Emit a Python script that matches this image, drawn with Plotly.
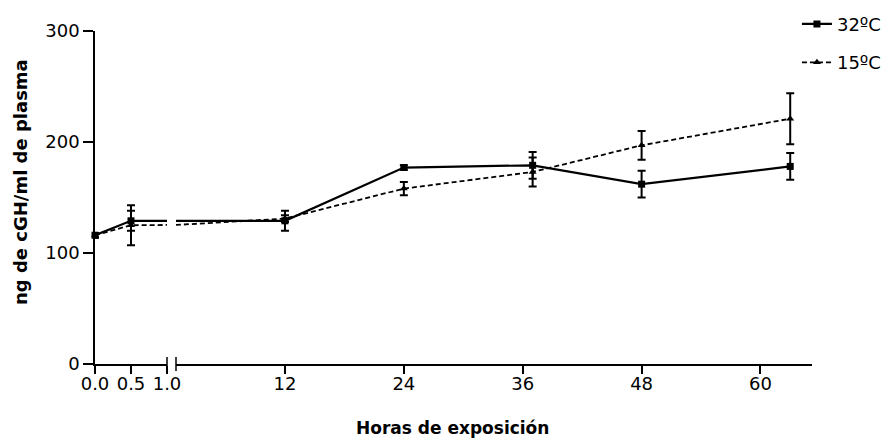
import plotly.graph_objects as go

# Sampling times (hours of exposure)
hours = [0, 0.5, 12, 24, 37, 48, 63]

# Plasma cGH (ng/ml) at 32 ºC
g32 = [116, 129, 129, 177, 179, 162, 178]
e32 = [2, 9, 9, 2, 12, 12, 12]

# Plasma cGH (ng/ml) at 15 ºC
g15 = [116, 125, 131, 158, 173, 197, 221]
e15 = [2, 18, 3, 6, 13, 13, 23]

# Tick labels for the broken time axis
left_ticks = [0.0, 0.5, 1.0]
left_text = ["0.0", "0.5", "1.0"]
right_ticks = [12, 24, 36, 48, 60]
y_ticks = [0, 100, 200, 300]

FONT = "DejaVu Sans, Arial, sans-serif"
INK = "black"

series = [
    dict(name="32ºC", y=g32, err=e32, dash="solid", width=2.2,
         symbol="square", size=7),
    dict(name="15ºC", y=g15, err=e15, dash="5px,3px", width=1.8,
         symbol="triangle-up", size=7),
]

fig = go.Figure()

# Each series is drawn on both halves of the broken axis; the plot area
# clips whatever falls outside a half's range.
for i, s in enumerate(series):
    for xa, show, clip in (("x", False, False), ("x2", True, True)):
        fig.add_trace(go.Scatter(
            x=hours, y=s["y"], xaxis=xa, yaxis="y",
            mode="lines+markers", name=s["name"],
            showlegend=show, legendgroup=s["name"], cliponaxis=clip,
            line=dict(color=INK, width=s["width"], dash=s["dash"]),
            marker=dict(symbol=s["symbol"], size=s["size"], color=INK),
            error_y=dict(type="data", array=s["err"], visible=True,
                         color=INK, thickness=2, width=4),
        ))

axis_common = dict(
    showline=True, linecolor=INK, linewidth=1.5,
    ticks="outside", tickcolor=INK, tickwidth=1.5,
    showgrid=False, zeroline=False,
    tickfont=dict(family=FONT, size=18, color=INK),
)

left_end = (167 - 95) / 717
right_start = (176 - 95) / 717

fig.update_layout(
    width=888, height=440,
    margin=dict(l=95, r=76, t=31, b=76, autoexpand=False),
    paper_bgcolor="white", plot_bgcolor="white",
    xaxis=dict(domain=[0, left_end], range=[0, 1.0], anchor="y",
               tickvals=left_ticks, ticktext=left_text, ticklen=8,
               ticklabelstandoff=-5, **axis_common),
    xaxis2=dict(domain=[right_start, 1], range=[1.0, 65.2], anchor="y",
                tickvals=right_ticks, ticklen=8, ticklabelstandoff=-5,
                **axis_common),
    yaxis=dict(range=[0, 300], anchor="x", tickvals=y_ticks, ticklen=10,
               **axis_common),
    legend=dict(x=0.979, y=1.076, xanchor="left", yanchor="top",
                font=dict(family=FONT, size=18, color=INK),
                tracegroupgap=12, bgcolor="rgba(0,0,0,0)"),
    showlegend=True,
)

# Break marks at both ends of the gap in the time axis
for xref, xpos in (("x domain", 1), ("x2 domain", 0)):
    fig.add_shape(type="line", xref=xref, x0=xpos, x1=xpos,
                  yref="paper", yanchor=0, ysizemode="pixel", y0=-7, y1=7,
                  line=dict(color=INK, width=1.5))

fig.add_annotation(text="<b>Horas de exposición</b>", xref="paper", yref="paper",
                   x=0.498, y=-0.192, showarrow=False, xanchor="center",
                   yanchor="middle",
                   font=dict(family=FONT, size=17, color=INK))
fig.add_annotation(text="<b>ng de cGH/ml de plasma</b>", xref="paper", yref="paper",
                   x=-0.1046, y=0.5465, showarrow=False, textangle=-90,
                   xanchor="center", yanchor="middle",
                   font=dict(family=FONT, size=18, color=INK))

fig.write_html("out.html")
